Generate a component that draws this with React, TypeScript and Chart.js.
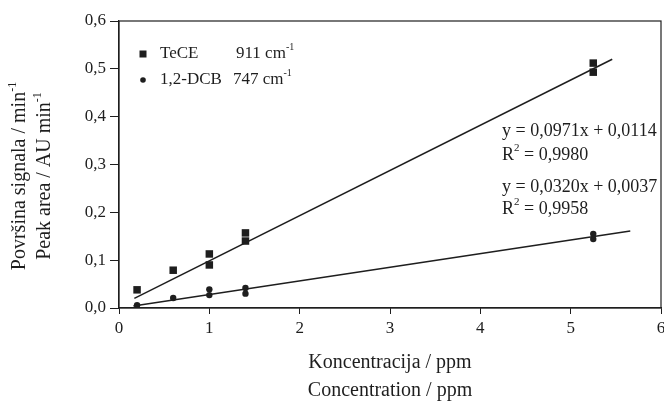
import { useEffect, useRef } from "react";
import { Chart, registerables } from "chart.js";

Chart.register(...registerables);

// ---- data ----
const teceX = [0.2, 0.6, 1, 1, 1.4, 1.4, 5.25, 5.25];
const teceY = [0.038, 0.079, 0.113, 0.09, 0.157, 0.14, 0.512, 0.493];
const dcbX = [0.2, 0.6, 1, 1, 1.4, 1.4, 5.25, 5.25];
const dcbY = [0.006, 0.021, 0.039, 0.027, 0.042, 0.03, 0.155, 0.144];
const teceFitX = [0.17, 5.46];
const teceFitY = [0.02, 0.52];
const dcbFitX = [0.16, 5.66];
const dcbFitY = [0.004, 0.161];
const xTicks = [0, 1, 2, 3, 4, 5, 6];
const yTicks = [0, 0.1, 0.2, 0.3, 0.4, 0.5, 0.6];

const SERIF = '"Liberation Serif", "Times New Roman", serif';
const INK = "#1e1e1e";

type Part = [string, boolean];

function drawRich(
  ctx: CanvasRenderingContext2D,
  parts: Part[],
  x: number,
  y: number,
  size: number,
  align: "left" | "center"
) {
  ctx.save();
  ctx.fillStyle = INK;
  ctx.textBaseline = "middle";
  ctx.textAlign = "left";
  const supSize = Math.round(size * 0.6);
  let w = 0;
  for (const [t, sup] of parts) {
    ctx.font = `${sup ? supSize : size}px ${SERIF}`;
    w += ctx.measureText(t).width;
  }
  let cx = align === "center" ? x - w / 2 : x;
  for (const [t, sup] of parts) {
    ctx.font = `${sup ? supSize : size}px ${SERIF}`;
    ctx.fillText(t, cx, sup ? y - size * 0.38 : y);
    cx += ctx.measureText(t).width;
  }
  ctx.restore();
}

const annotate = {
  id: "annotate",
  afterDraw(chart: any) {
    const ctx: CanvasRenderingContext2D = chart.ctx;
    const a = chart.chartArea;
    // frame
    ctx.save();
    ctx.strokeStyle = INK;
    ctx.lineWidth = 1.2;
    ctx.strokeRect(a.left, a.top, a.right - a.left, a.bottom - a.top);
    ctx.restore();

    // x title
    const cx = (a.left + a.right) / 2;
    drawRich(ctx, [["Koncentracija / ppm", false]], cx, 363, 20, "center");
    drawRich(ctx, [["Concentration / ppm", false]], cx, 391, 20, "center");

    // y title (rotated)
    ctx.save();
    ctx.translate(20, 176);
    ctx.rotate(-Math.PI / 2);
    drawRich(ctx, [["Površina signala / min", false], ["-1", true]], 0, 0, 20, "center");
    ctx.restore();
    ctx.save();
    ctx.translate(45, 176);
    ctx.rotate(-Math.PI / 2);
    drawRich(ctx, [["Peak area / AU min", false], ["-1", true]], 0, 0, 20, "center");
    ctx.restore();

    // legend
    ctx.save();
    ctx.fillStyle = INK;
    ctx.fillRect(143 - 3.5, 54 - 3.5, 7, 7);
    ctx.beginPath();
    ctx.arc(143, 80, 2.8, 0, Math.PI * 2);
    ctx.fill();
    ctx.restore();
    drawRich(ctx, [["TeCE", false]], 160, 54, 17, "left");
    drawRich(ctx, [["911 cm", false], ["-1", true]], 236, 54, 17, "left");
    drawRich(ctx, [["1,2-DCB", false]], 160, 80, 17, "left");
    drawRich(ctx, [["747 cm", false], ["-1", true]], 233, 80, 17, "left");

    // equations
    drawRich(ctx, [["y = 0,0971x + 0,0114", false]], 502, 131, 18, "left");
    drawRich(ctx, [["R", false], ["2", true], [" = 0,9980", false]], 502, 155, 18, "left");
    drawRich(ctx, [["y = 0,0320x + 0,0037", false]], 502, 187, 18, "left");
    drawRich(ctx, [["R", false], ["2", true], [" = 0,9958", false]], 502, 209, 18, "left");
  },
};

export default function App() {
  const ref = useRef<HTMLCanvasElement>(null);

  useEffect(() => {
    if (!ref.current) return;
    const pts = (xs: number[], ys: number[]) => xs.map((x, i) => ({ x, y: ys[i] }));
    const chart = new Chart(ref.current, {
      type: "scatter",
      data: {
        datasets: [
          {
            label: "TeCE fit",
            data: pts(teceFitX, teceFitY),
            showLine: true,
            borderColor: INK,
            borderWidth: 1.5,
            pointRadius: 0,
          },
          {
            label: "1,2-DCB fit",
            data: pts(dcbFitX, dcbFitY),
            showLine: true,
            borderColor: INK,
            borderWidth: 1.5,
            pointRadius: 0,
          },
          {
            label: "TeCE",
            data: pts(teceX, teceY),
            pointStyle: "rect",
            pointRadius: 5.3,
            backgroundColor: INK,
            borderColor: INK,
            borderWidth: 0,
          },
          {
            label: "1,2-DCB",
            data: pts(dcbX, dcbY),
            pointStyle: "circle",
            pointRadius: 3.2,
            backgroundColor: INK,
            borderColor: INK,
            borderWidth: 0,
          },
        ],
      },
      options: {
        animation: false,
        responsive: true,
        maintainAspectRatio: false,
        layout: { padding: { top: 21, right: 3, left: 0, bottom: 0 }, autoPadding: false },
        plugins: { legend: { display: false }, tooltip: { enabled: false } },
        scales: {
          x: {
            type: "linear",
            min: xTicks[0],
            max: xTicks[xTicks.length - 1],
            afterFit: (s: any) => {
              s.height = 93;
              s.paddingLeft = 0;
              s.paddingRight = 0;
            },
            afterBuildTicks: (s: any) => {
              s.ticks = xTicks.map((v) => ({ value: v }));
            },
            grid: { drawOnChartArea: false, drawTicks: true, tickLength: 6, color: INK, lineWidth: 1 },
            border: { display: true, color: INK, width: 1.2 },
            ticks: {
              font: { family: SERIF, size: 17 },
              color: INK,
              padding: 4,
              maxRotation: 0,
              autoSkip: false,
              callback: (v: any) => String(v),
            },
          },
          y: {
            type: "linear",
            min: yTicks[0],
            max: yTicks[yTicks.length - 1],
            afterFit: (s: any) => {
              s.width = 119;
              s.paddingTop = 0;
              s.paddingBottom = 0;
            },
            afterBuildTicks: (s: any) => {
              s.ticks = yTicks.map((v) => ({ value: v }));
            },
            grid: { drawOnChartArea: false, drawTicks: true, tickLength: 9, color: INK, lineWidth: 1 },
            border: { display: true, color: INK, width: 1.2 },
            ticks: {
              font: { family: SERIF, size: 17 },
              color: INK,
              padding: 4,
              autoSkip: false,
              callback: (v: any) => Number(v).toFixed(1).replace(".", ","),
            },
          },
        },
      },
      plugins: [annotate],
    } as any);
    return () => chart.destroy();
  }, []);

  return (
    <div style={{ position: "fixed", left: 0, top: 0, width: 664, height: 401, background: "#fff" }}>
      <canvas ref={ref} />
    </div>
  );
}
